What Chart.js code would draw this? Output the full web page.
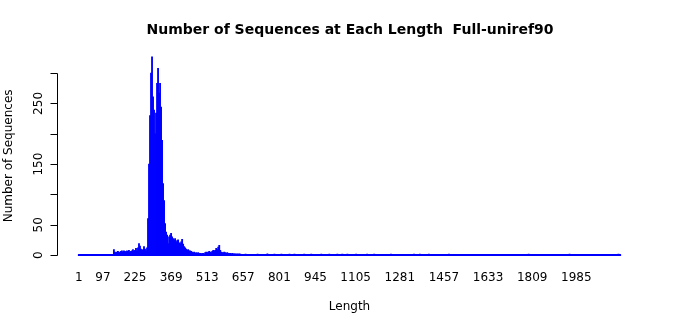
<!DOCTYPE html>
<html>
<head>
<meta charset="utf-8">
<script src="https://cdn.jsdelivr.net/npm/chart.js@4.4.1/dist/chart.umd.min.js"></script>
<style>
  html, body { margin: 0; padding: 0; background: #fff; }
</style>
</head>
<body>
<canvas id="grafico" width="700" height="315"></canvas>
<script>
// Datos (conteo por longitud de secuencia)
const maxLength = 2160;

const lengths = [141,145,149,153,157,161,165,169,173,177,181,185,189,193,197,201,205,209,213,217,
  221,225,229,233,237,241,245,249,253,257,261,265,269,273,277,281,285,289,293,297,
  301,305,309,313,317,321,325,329,333,337,341,345,349,353,357,361,365,369,373,377,
  381,385,389,393,397,401,405,409,413,417,421,425,429,433,437,441,445,449,453,457,
  461,465,469,473,477,481,485,489,493,497,501,505,509,513,517,521,525,529,533,537,
  541,545,549,553,557,561,565,569,573,577,581,585,589,593,597,601,605,609,613,617,
  621,625,629,633,637,641,645];

const counts = [9,5,4,5,6,5,4,6,7,5,7,6,5,7,6,8,5,6,7,9,
  6,8,11,7,12,19,15,10,8,9,14,10,7,12,60,150,230,300,327,261,
  239,200,234,283,308,267,283,244,189,118,90,52,38,33,19,30,33,36,30,27,
  25,27,22,24,25,20,19,22,26,18,14,12,10,8,9,7,7,6,5,4,
  5,3,4,3,4,3,3,2,3,3,2,4,5,4,5,6,5,4,6,8,
  7,8,11,9,13,16,8,5,4,4,5,4,3,4,3,3,3,2,3,2,
  2,2,1,2,1,2,1];

// barras sueltas de 1 o 2 secuencias en la cola
const sparseLengths = [666,714,753,781,809,841,861,900,928,968,1000,1032,1052,1072,1107,1151,1179,1246,1338,1361,1397,1477,1795,1958,2153];
const sparseCounts = [1,1,2,1,1,1,1,1,1,1,1,1,1,1,1,1,1,1,1,1,1,1,1,1,1];

const xTickLabels = [1, 97, 225, 369, 513, 657, 801, 945, 1105, 1281, 1457, 1633, 1809, 1985];
const yTicks = [0, 50, 100, 150, 200, 250, 300];
const yTickLabels = ['0', '50', '', '150', '', '250', ''];

// Una barra por cada longitud, las que no aparecen quedan en 0
const porLongitud = {};
lengths.forEach((l, i) => { porLongitud[l] = counts[i]; });
sparseLengths.forEach((l, i) => { porLongitud[l] = sparseCounts[i]; });
const datos = [];
for (let l = 1; l <= maxLength; l++) {
  datos.push({ x: l, y: porLongitud[l] || 0 });
}

// Limites como en barplot de R (4% extra a cada lado)
const span = maxLength * 1.2 + 0.2;
const xMin = (0.5 - 0.04 * span) / 1.2;
const xMax = (0.5 + 1.04 * span) / 1.2;
const maxCount = Math.max(...counts);
const yMin = -0.04 * maxCount;
const yMax = 1.04 * maxCount;

const fuente = '"DejaVu Sans", sans-serif';

// Eje Y al estilo R: linea solo entre 0 y 300, etiquetas giradas
const ejeY = {
  id: 'ejeY',
  afterDraw(chart) {
    const { ctx, chartArea, scales: { y } } = chart;
    const x0 = Math.round(chartArea.left) + 0.5;
    ctx.save();
    ctx.strokeStyle = '#000';
    ctx.lineWidth = 1;
    ctx.beginPath();
    ctx.moveTo(x0, Math.round(y.getPixelForValue(yTicks[0])) + 0.5);
    ctx.lineTo(x0, Math.round(y.getPixelForValue(yTicks[yTicks.length - 1])) + 0.5);
    yTicks.forEach(v => {
      const py = Math.round(y.getPixelForValue(v)) + 0.5;
      ctx.moveTo(x0, py);
      ctx.lineTo(x0 - 7, py);
    });
    ctx.stroke();

    ctx.fillStyle = '#000';
    ctx.font = '12px ' + fuente;
    ctx.textAlign = 'center';
    ctx.textBaseline = 'middle';
    yTicks.forEach((v, i) => {
      if (!yTickLabels[i]) return;
      ctx.save();
      ctx.translate(x0 - 19, y.getPixelForValue(v));
      ctx.rotate(-Math.PI / 2);
      ctx.fillText(yTickLabels[i], 0, 0);
      ctx.restore();
    });
    ctx.restore();
  }
};

const ctx = document.getElementById('grafico').getContext('2d');

new Chart(ctx, {
  type: 'bar',
  data: {
    datasets: [{
      data: datos,
      backgroundColor: '#0000FF',
      borderWidth: 0,
      barThickness: 1.2,
      minBarLength: 1
    }]
  },
  options: {
    responsive: false,
    animation: false,
    devicePixelRatio: 1,
    layout: { padding: 0 },
    plugins: {
      legend: { display: false },
      tooltip: { enabled: false },
      title: {
        display: true,
        text: 'Number of Sequences at Each Length  Full-uniref90',
        color: '#000',
        font: { family: fuente, size: 14, weight: 'bold' },
        padding: { top: 22, bottom: 10 }
      }
    },
    scales: {
      x: {
        type: 'linear',
        min: xMin,
        max: xMax,
        offset: false,
        grid: { display: false, drawTicks: false },
        border: { display: false },
        afterBuildTicks: s => { s.ticks = xTickLabels.map(v => ({ value: v })); },
        afterFit: s => { s.height = 52; },
        ticks: {
          autoSkip: false,
          maxRotation: 0,
          padding: 8,
          color: '#000',
          font: { family: fuente, size: 12 },
          callback: v => String(v)
        },
        title: {
          display: true,
          text: 'Length',
          color: '#000',
          font: { family: fuente, size: 12 },
          padding: { top: 0, bottom: 1 }
        }
      },
      y: {
        type: 'linear',
        min: yMin,
        max: yMax,
        grid: { display: false },
        border: { display: false },
        ticks: { display: false },
        afterFit: s => { s.width = 57; },
        title: {
          display: true,
          text: 'Number of Sequences',
          color: '#000',
          font: { family: fuente, size: 12 },
          padding: { top: 2, bottom: 0 }
        }
      },
      // margen derecho vacio, para que el titulo quede centrado en todo el ancho
      margenDer: {
        type: 'linear',
        position: 'right',
        grid: { display: false },
        border: { display: false },
        ticks: { display: false },
        afterFit: s => { s.width = 58; }
      }
    }
  },
  plugins: [ejeY]
});
</script>
</body>
</html>
